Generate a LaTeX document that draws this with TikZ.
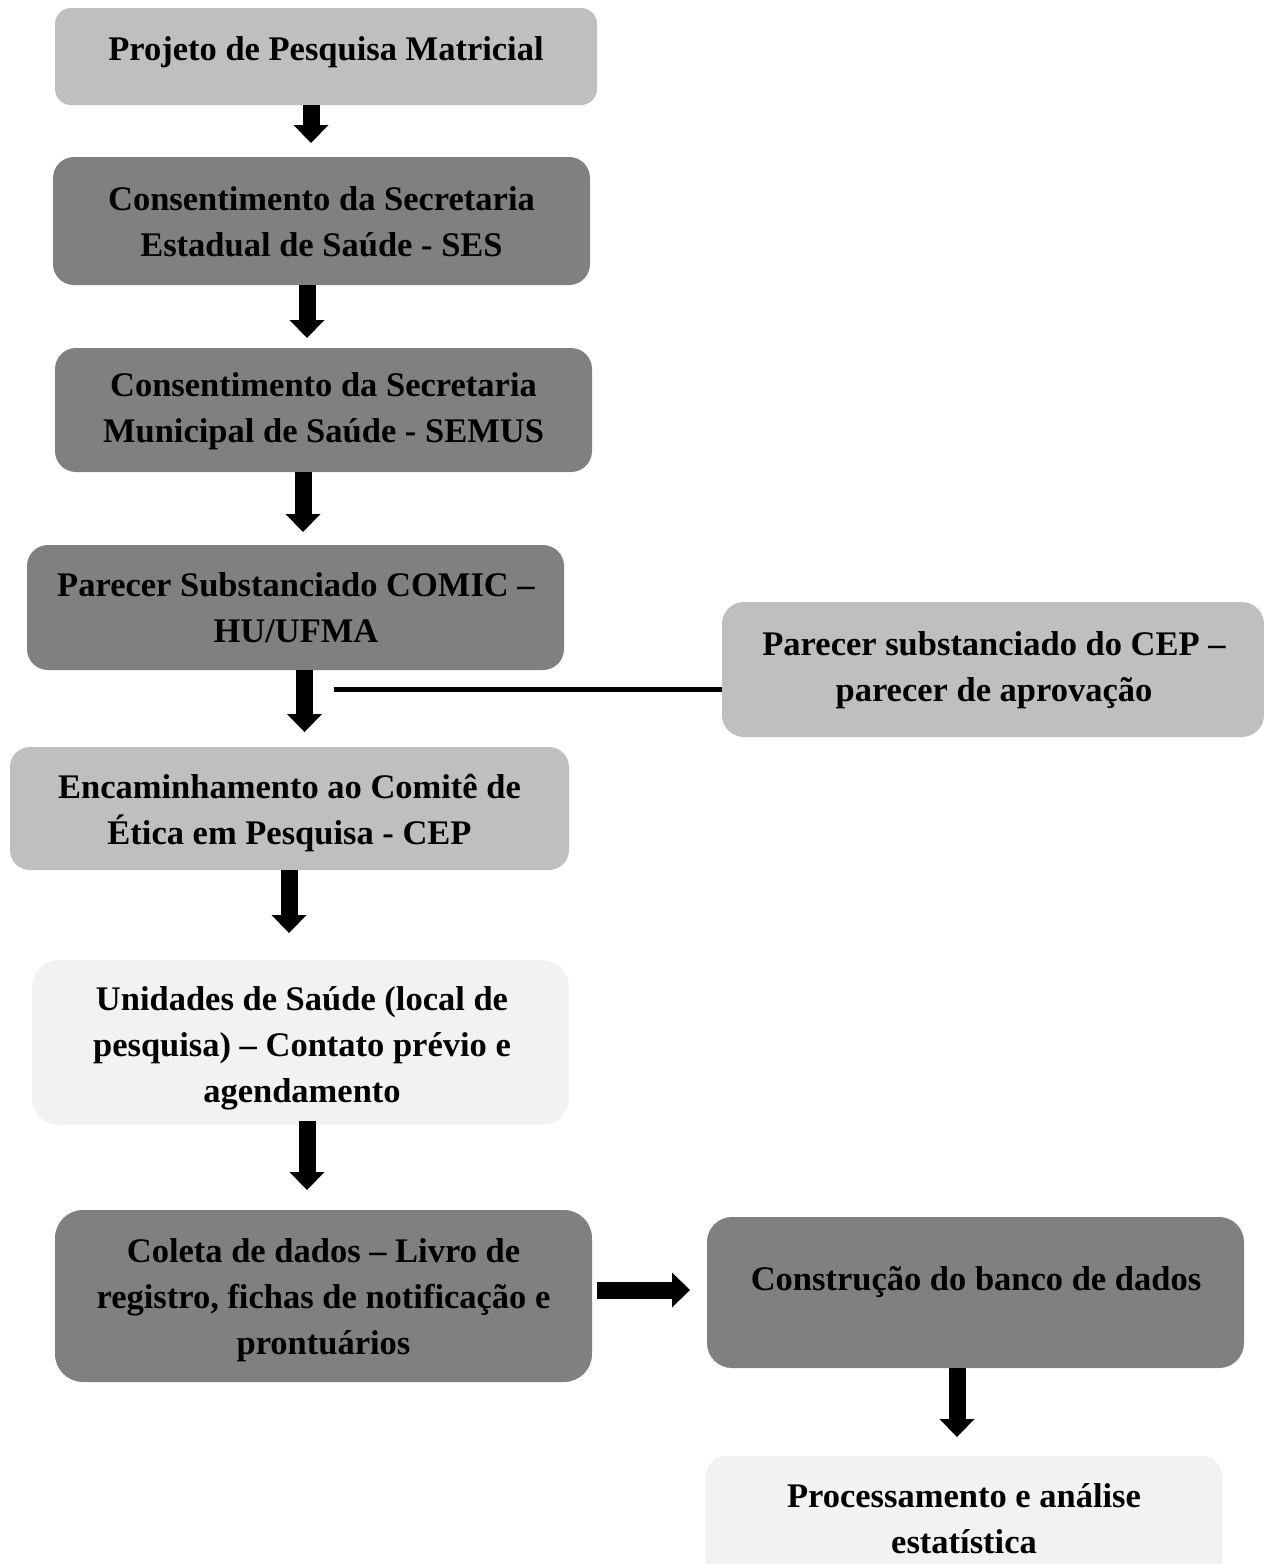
\documentclass[tikz,border=0pt]{standalone}
\usepackage{fontspec}
\setmainfont{Liberation Serif}
\usetikzlibrary{arrows.meta,calc}
\definecolor{gLight}{HTML}{BFBFBF}
\definecolor{gDark}{HTML}{808080}
\definecolor{gPale}{HTML}{F2F2F2}
\tikzset{
  box/.style={inner sep=0pt, outer sep=0pt, anchor=north west},
  txt/.style={font=\bfseries\fontsize{34.5}{46}\selectfont, align=center, inner sep=0pt, text=black},
  bigarrow/.style={line width=17pt, -{Triangle[width=35pt,length=18pt,line width=0pt]}},
  joinline/.style={line width=5pt}
}
\begin{document}
\begin{tikzpicture}[x=1pt,y=-1pt]
\clip (0,0) rectangle (1264,1564);
\fill[white] (0,0) rectangle (1264,1564);

% boxes
\node[box, fill=gLight, rounded corners=16pt, minimum width=542pt, minimum height=97pt] (b1) at (55,8) {};
\node[box, fill=gDark, rounded corners=21pt, minimum width=537pt, minimum height=128pt] (b2) at (53,157) {};
\node[box, fill=gDark, rounded corners=21pt, minimum width=537pt, minimum height=124pt] (b3) at (55,348) {};
\node[box, fill=gDark, rounded corners=21pt, minimum width=537pt, minimum height=125pt] (b4) at (27,545) {};
\node[box, fill=gLight, rounded corners=22pt, minimum width=542pt, minimum height=135pt] (b5) at (722,602) {};
\node[box, fill=gLight, rounded corners=20pt, minimum width=559pt, minimum height=123pt] (b6) at (10,747) {};
\node[box, fill=gPale, rounded corners=27pt, minimum width=537pt, minimum height=165pt] (b7) at (32,960) {};
\node[box, fill=gDark, rounded corners=28pt, minimum width=537pt, minimum height=172pt] (b8) at (55,1210) {};
\node[box, fill=gDark, rounded corners=25pt, minimum width=537pt, minimum height=151pt] (b9) at (707,1217) {};
\node[box, fill=gPale, rounded corners=20pt, minimum width=516pt, minimum height=124pt] (b10) at (706,1456) {};

% texts
\node[txt] (t1) at (326,52) {Projeto de Pesquisa Matricial};
\node[txt] (t2) at (321.5,222) {Consentimento da Secretaria\\Estadual de Saúde - SES};
\node[txt] (t3) at (323.5,411) {Consentimento da Secretaria\\Municipal de Saúde - SEMUS};
\node[txt] (t4) at (296,608) {Parecer Substanciado COMIC –\\HU/UFMA};
\node[txt] (t5) at (994,670) {Parecer substanciado do CEP –\\parecer de aprovação};
\node[txt] (t6) at (289.5,813) {Encaminhamento ao Comitê de\\Ética em Pesquisa - CEP};
\node[txt] (t7) at (302,1048) {Unidades de Saúde (local de\\pesquisa) – Contato prévio e\\agendamento};
\node[txt] (t8) at (323.5,1300) {Coleta de dados – Livro de\\registro, fichas de notificação e\\prontuários};
\node[txt] (t9) at (976,1282) {Construção do banco de dados};
\node[txt] (t10) at (964,1519) {Processamento e análise\\estatística};

% arrow x positions
\coordinate (a1) at (311,0);
\coordinate (a2) at (307,0);
\coordinate (a3) at (303,0);
\coordinate (a4) at (304.5,0);
\coordinate (a5) at (289,0);
\coordinate (a6) at (307,0);
\coordinate (a7) at (0,1290);
\coordinate (a8) at (957,0);
\coordinate (lineend) at (334,689);

\draw[bigarrow, shorten >=14pt] (b1.south -| a1) -- (b2.north -| a1);
\draw[bigarrow, shorten >=10pt] (b2.south -| a2) -- (b3.north -| a2);
\draw[bigarrow, shorten >=13pt] (b3.south -| a3) -- (b4.north -| a3);
\draw[bigarrow, shorten >=15pt] (b4.south -| a4) -- (b6.north -| a4);
\draw[bigarrow, shorten >=27pt] (b6.south -| a5) -- (b7.north -| a5);
\draw[bigarrow, shorten >=20pt, shorten <=-4pt] (b7.south -| a6) -- (b8.north -| a6);
\draw[bigarrow, shorten <=5pt, shorten >=17pt] (b8.east |- a7) -- (b9.west |- a7);
\draw[bigarrow, shorten >=19pt] (b9.south -| a8) -- (b10.north -| a8);
\draw[joinline] (lineend) -- (lineend -| b5.west);
\end{tikzpicture}
\end{document}
